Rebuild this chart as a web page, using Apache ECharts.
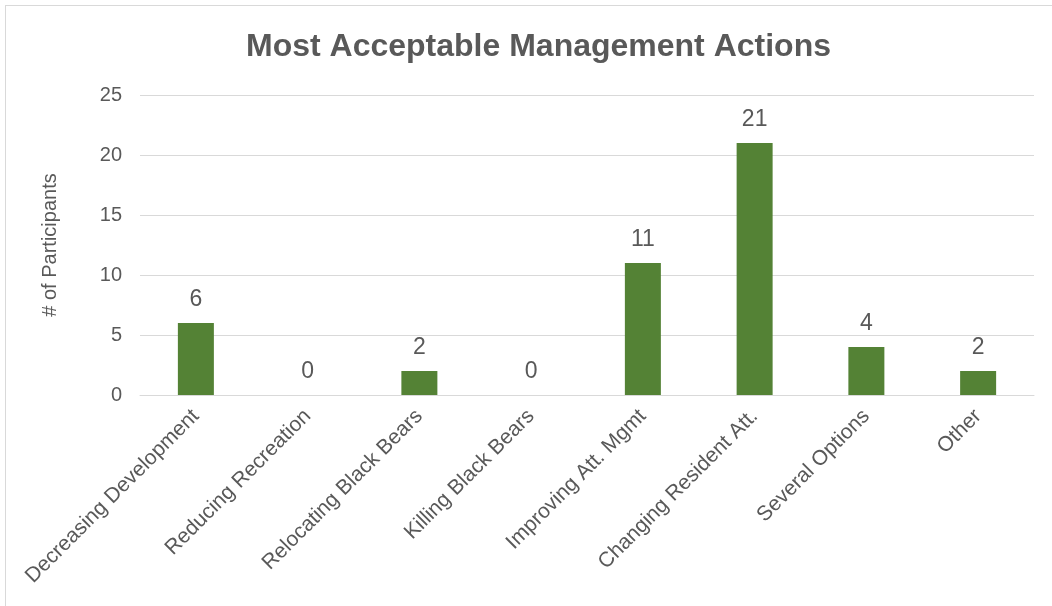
<!DOCTYPE html>
<html><head><meta charset="utf-8">
<script src="https://cdn.jsdelivr.net/npm/echarts@6/dist/echarts.min.js"></script>
<style>
html,body{margin:0;padding:0;background:#fff;}
#frame{position:absolute;left:5px;top:5px;width:1060px;height:620px;border:1px solid #d9d9d9;box-sizing:border-box;}
#c{position:absolute;left:0;top:0;width:1052px;height:606px;}
</style></head>
<body><div id="frame"></div><div id="c"></div>
<script>
const categories = ["Decreasing Development","Reducing Recreation","Relocating Black Bears","Killing Black Bears","Improving Att. Mgmt","Changing Resident Att.","Several Options","Other"];
const participants = [6,0,2,0,11,21,4,2];
const yTicks = {min:0,max:25,interval:5};
const chart = echarts.init(document.getElementById('c'));
const font = "'Liberation Sans', Arial, sans-serif";
chart.setOption({
  animation:false,
  backgroundColor:'transparent',
  title:{text:'Most Acceptable Management Actions',left:241,top:26,
    textStyle:{fontFamily:font,fontSize:32,fontWeight:'bold',color:'#595959'}},
  grid:{left:140,right:18,top:95,bottom:211,containLabel:false},
  xAxis:{type:'category',data:categories,
    axisLine:{show:true,lineStyle:{color:'#d9d9d9',width:1}},
    axisTick:{show:false},
    axisLabel:{rotate:45,interval:0,color:'#595959',fontFamily:font,fontSize:21,margin:18}},
  yAxis:{type:'value',min:yTicks.min,max:yTicks.max,interval:yTicks.interval,
    name:'# of Participants',nameLocation:'middle',nameGap:80,nameRotate:90,
    nameTextStyle:{color:'#595959',fontFamily:font,fontSize:20},
    axisLine:{show:false},axisTick:{show:false},
    axisLabel:{color:'#595959',fontFamily:font,fontSize:20,margin:18},
    splitLine:{lineStyle:{color:'#d9d9d9',width:1}}},
  series:[{type:'bar',data:participants,barWidth:36,
    itemStyle:{color:'#548235'},
    label:{show:true,position:'top',distance:12,color:'#595959',fontFamily:font,fontSize:23}}]
});
</script></body></html>
